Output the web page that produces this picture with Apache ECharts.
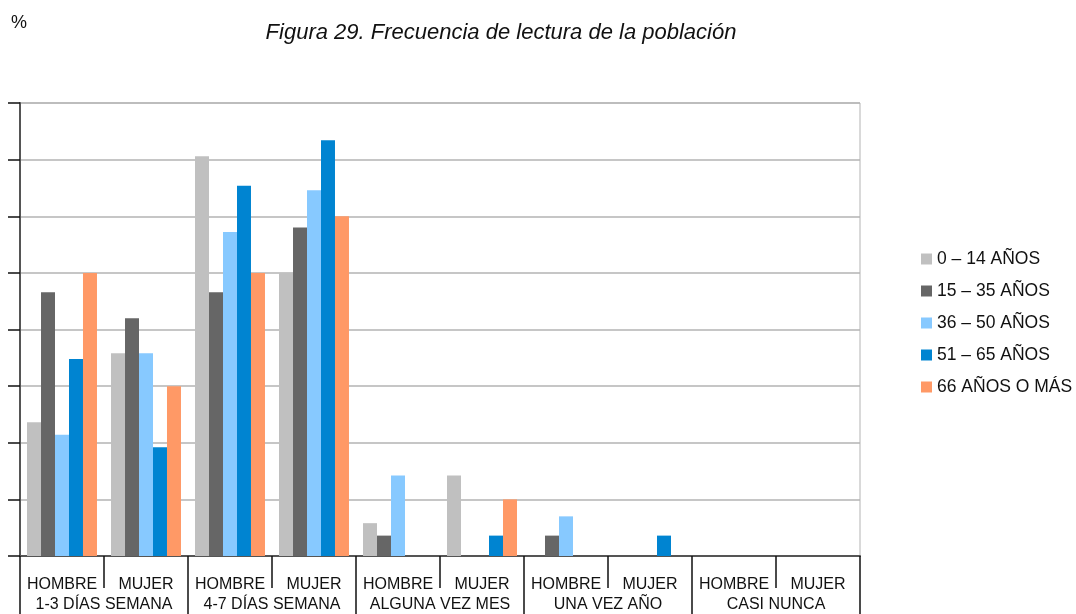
<!DOCTYPE html>
<html>
<head>
<meta charset="utf-8">
<script src="https://cdn.jsdelivr.net/npm/echarts@6/dist/echarts.min.js"></script>
<style>
  html, body { margin: 0; padding: 0; background: #fff; }
  #chart { width: 1076px; height: 614px; }
</style>
</head>
<body>
<div id="chart"></div>
<script>
// Sex subcategories (lower axis row) and reading-frequency groups (second row)
const categories = ['HOMBRE', 'MUJER', 'HOMBRE', 'MUJER', 'HOMBRE', 'MUJER', 'HOMBRE', 'MUJER', 'HOMBRE', 'MUJER'];
const groups = ['1-3 DÍAS SEMANA', '4-7 DÍAS SEMANA', 'ALGUNA VEZ MES', 'UNA VEZ AÑO', 'CASI NUNCA'];

// Percentage per age band, one value per category
const age0to14  = [11.8, 17.9, 35.3, 25.0, 2.9, 7.1, 0,   0,   0, 0];
const age15to35 = [23.3, 21.0, 23.3, 29.0, 1.8, 0,   1.8, 0,   0, 0];
const age36to50 = [10.7, 17.9, 28.6, 32.3, 7.1, 0,   3.5, 0,   0, 0];
const age51to65 = [17.4,  9.6, 32.7, 36.7, 0,   1.8, 0,   1.8, 0, 0];
const age66plus = [25.0, 15.0, 25.0, 30.0, 0,   5.0, 0,   0,   0, 0];

const seriesNames = ['0 – 14 AÑOS', '15 – 35 AÑOS', '36 – 50 AÑOS', '51 – 65 AÑOS', '66 AÑOS O MÁS'];
const seriesData = [age0to14, age15to35, age36to50, age51to65, age66plus];
const colors = ['#c0c0c0', '#666666', '#87c9ff', '#0084d1', '#ff9966'];

const FONT = 'Liberation Sans, Arial, sans-serif';

const chart = echarts.init(document.getElementById('chart'), null, { renderer: 'canvas' });

chart.setOption({
  animation: false,
  backgroundColor: '#ffffff',
  color: colors,
  title: [
    {
      text: 'Figura 29. Frecuencia de lectura de la población',
      left: 496, top: 17, textAlign: 'center',
      textStyle: { fontFamily: FONT, fontSize: 22, fontStyle: 'italic', fontWeight: 'normal', color: '#111' }
    },
    {
      text: '%',
      left: 6, top: 9,
      textStyle: { fontFamily: FONT, fontSize: 18, fontWeight: 'normal', color: '#111' }
    }
  ],
  legend: {
    orient: 'vertical',
    left: 916, top: 245,
    icon: 'rect',
    itemWidth: 11, itemHeight: 11,
    itemGap: 14,
    textStyle: { fontFamily: FONT, fontSize: 17.5, color: '#111' },
    data: seriesNames
  },
  grid: {
    left: 20, right: 216, top: 103, bottom: 58,
    show: true, borderColor: '#b3b3b3', borderWidth: 1
  },
  xAxis: [
    {
      type: 'category',
      data: categories,
      position: 'bottom',
      axisLine: { lineStyle: { color: '#555', width: 2 } },
      axisTick: { show: true, interval: 0, length: 32, lineStyle: { color: '#111', width: 1.5 } },
      axisLabel: { interval: 0, margin: 21, fontFamily: FONT, fontSize: 16, color: '#111' }
    },
    {
      type: 'category',
      data: groups,
      position: 'bottom',
      axisLine: { show: false },
      axisTick: { show: true, interval: 0, length: 60, lineStyle: { color: '#111', width: 1.5 } },
      axisLabel: { interval: 0, margin: 41, fontFamily: FONT, fontSize: 16, color: '#111' }
    }
  ],
  yAxis: {
    type: 'value',
    min: 0, max: 40, interval: 5,
    axisLine: { show: true, lineStyle: { color: '#555', width: 2 } },
    axisTick: { show: true, length: 12, lineStyle: { color: '#111', width: 1.5 } },
    axisLabel: { show: false },
    splitLine: { lineStyle: { color: '#b3b3b3', width: 1.5 } }
  },
  series: seriesNames.map((name, i) => ({
    name: name,
    type: 'bar',
    xAxisIndex: 0,
    data: seriesData[i],
    barGap: '0%',
    barCategoryGap: '16.7%',
    itemStyle: { color: colors[i] }
  }))
});
</script>
</body>
</html>
